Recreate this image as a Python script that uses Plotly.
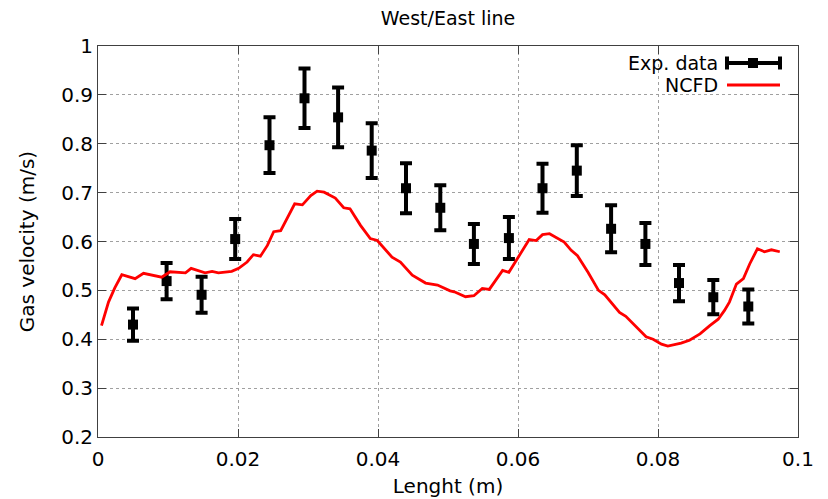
import plotly.graph_objects as go

# Experimental gas velocity along the West/East line
exp_x = [0.0050, 0.0098, 0.0148, 0.0196, 0.0245, 0.0295, 0.0343, 0.0391, 0.0440, 0.0489,
         0.0537, 0.0587, 0.0635, 0.0684, 0.0733, 0.0782, 0.0830, 0.0879, 0.0929]
exp_y = [0.430, 0.519, 0.491, 0.605, 0.797, 0.893, 0.854, 0.786, 0.709, 0.669,
         0.595, 0.607, 0.709, 0.745, 0.626, 0.595, 0.515, 0.486, 0.467]
exp_err = [0.033, 0.037, 0.037, 0.041, 0.057, 0.061, 0.061, 0.056, 0.051, 0.046,
           0.041, 0.043, 0.050, 0.052, 0.048, 0.043, 0.037, 0.035, 0.035]

# NCFD simulation profile
ncfd_x = [0.0005, 0.0015, 0.0024, 0.0034, 0.0053, 0.0065, 0.0091, 0.0103, 0.0125, 0.0133,
          0.0153, 0.0163, 0.0172, 0.0191, 0.0201, 0.0213, 0.0222, 0.0232, 0.0242, 0.0251,
          0.0261, 0.0281, 0.0292, 0.0304, 0.0313, 0.0323, 0.0339, 0.0351, 0.0360, 0.0375,
          0.0389, 0.0399, 0.0420, 0.0432, 0.0449, 0.0468, 0.0485, 0.0503, 0.0509, 0.0525,
          0.0537, 0.0549, 0.0559, 0.0578, 0.0587, 0.0604, 0.0616, 0.0626, 0.0635, 0.0645,
          0.0654, 0.0666, 0.0676, 0.0685, 0.0700, 0.0715, 0.0724, 0.0745, 0.0754, 0.0771,
          0.0783, 0.0793, 0.0805, 0.0814, 0.0833, 0.0845, 0.0860, 0.0874, 0.0886, 0.0895,
          0.0902, 0.0912, 0.0922, 0.0931, 0.0942, 0.0952, 0.0962, 0.0974]
ncfd_y = [0.428, 0.476, 0.505, 0.532, 0.524, 0.535, 0.527, 0.538, 0.536, 0.545,
          0.536, 0.539, 0.536, 0.539, 0.545, 0.558, 0.573, 0.570, 0.592, 0.620,
          0.622, 0.677, 0.675, 0.694, 0.703, 0.701, 0.689, 0.669, 0.667, 0.633,
          0.606, 0.602, 0.568, 0.558, 0.531, 0.515, 0.511, 0.499, 0.497, 0.487,
          0.489, 0.504, 0.502, 0.541, 0.537, 0.578, 0.604, 0.602, 0.614, 0.616,
          0.609, 0.599, 0.582, 0.571, 0.537, 0.500, 0.491, 0.455, 0.447, 0.422,
          0.405, 0.400, 0.390, 0.386, 0.392, 0.398, 0.411, 0.428, 0.441, 0.459,
          0.476, 0.513, 0.524, 0.554, 0.585, 0.579, 0.583, 0.579]

x_ticks = [0, 0.02, 0.04, 0.06, 0.08, 0.1]
x_tick_text = ["0", "0.02", "0.04", "0.06", "0.08", "0.1"]
y_ticks = [0.2, 0.3, 0.4, 0.5, 0.6, 0.7, 0.8, 0.9, 1.0]
y_tick_text = ["0.2", "0.3", "0.4", "0.5", "0.6", "0.7", "0.8", "0.9", "1"]

FONT = "DejaVu Sans"
W, H = 828, 499
ML, MR, MT, MB = 98, 30, 46, 62

fig = go.Figure()
fig.add_trace(go.Scatter(
    x=exp_x, y=exp_y, mode="markers", name="Exp. data",
    marker=dict(symbol="square", size=10, color="black"),
    error_y=dict(type="data", array=exp_err, thickness=4, width=6, color="black"),
))
fig.add_trace(go.Scatter(
    x=ncfd_x, y=ncfd_y, mode="lines", name="NCFD",
    line=dict(color="#ff0000", width=2.8),
))

axis_common = dict(
    showline=True, linecolor="#404040", linewidth=1, mirror="allticks",
    ticks="inside", ticklen=8, tickcolor="#404040", tickwidth=1,
    showgrid=True, gridcolor="#a0a0a0", griddash="dot", gridwidth=1,
    zeroline=False, tickfont=dict(family=FONT, size=20, color="black"),
)

fig.update_xaxes(range=[0, 0.1], tickvals=x_ticks, ticktext=x_tick_text,
                 ticklabelstandoff=4,
                 title=dict(text="Lenght (m)", font=dict(family=FONT, size=20, color="black"),
                            standoff=8),
                 **axis_common)
fig.update_yaxes(range=[0.2, 1.0], tickvals=y_ticks, ticktext=y_tick_text,
                 title=dict(text="Gas velocity (m/s)", font=dict(family=FONT, size=20, color="black"),
                            standoff=21),
                 **axis_common)

# Key drawn in gnuplot style: text on the left, sample on the right
pw, ph = W - ML - MR, H - MT - MB


def px(x):
    return (x - ML) / pw


def py(y):
    return (H - MB - y) / ph


key_text_x = px(719)
row_exp, row_ncfd = 63, 85
annotations = []
for label, yy in (("Exp. data", row_exp), ("NCFD", row_ncfd)):
    annotations.append(dict(
        x=key_text_x, y=py(yy), xref="paper", yref="paper", text=label,
        showarrow=False, xanchor="right", yanchor="middle", borderpad=0,
        font=dict(family=FONT, size=19, color="black"),
    ))

shapes = []
s0, s1 = px(727), px(780)
ye = py(row_exp)
cap_h = 6.5 / ph
shapes.append(dict(type="line", xref="paper", yref="paper", x0=s0, x1=s1, y0=ye, y1=ye,
                   line=dict(color="black", width=4)))
for sx in (s0, s1):
    shapes.append(dict(type="line", xref="paper", yref="paper", x0=sx, x1=sx,
                       y0=ye - cap_h, y1=ye + cap_h, line=dict(color="black", width=4)))
shapes.append(dict(type="rect", xref="paper", yref="paper",
                   x0=px(748), x1=px(758), y0=ye - 5 / ph, y1=ye + 5 / ph,
                   fillcolor="black", line=dict(width=0)))
yn = py(row_ncfd)
shapes.append(dict(type="line", xref="paper", yref="paper", x0=s0, x1=s1, y0=yn, y1=yn,
                   line=dict(color="#ff0000", width=2.8)))

fig.update_layout(
    width=W, height=H,
    margin=dict(l=ML, r=MR, t=MT, b=MB, autoexpand=False),
    paper_bgcolor="white", plot_bgcolor="white",
    showlegend=False,
    title=dict(text="West/East line", x=(ML + pw / 2) / W, xanchor="center",
               y=1 - 18 / H, yanchor="middle",
               font=dict(family=FONT, size=19, color="black")),
    annotations=annotations, shapes=shapes,
)

fig.write_html("out.html")
